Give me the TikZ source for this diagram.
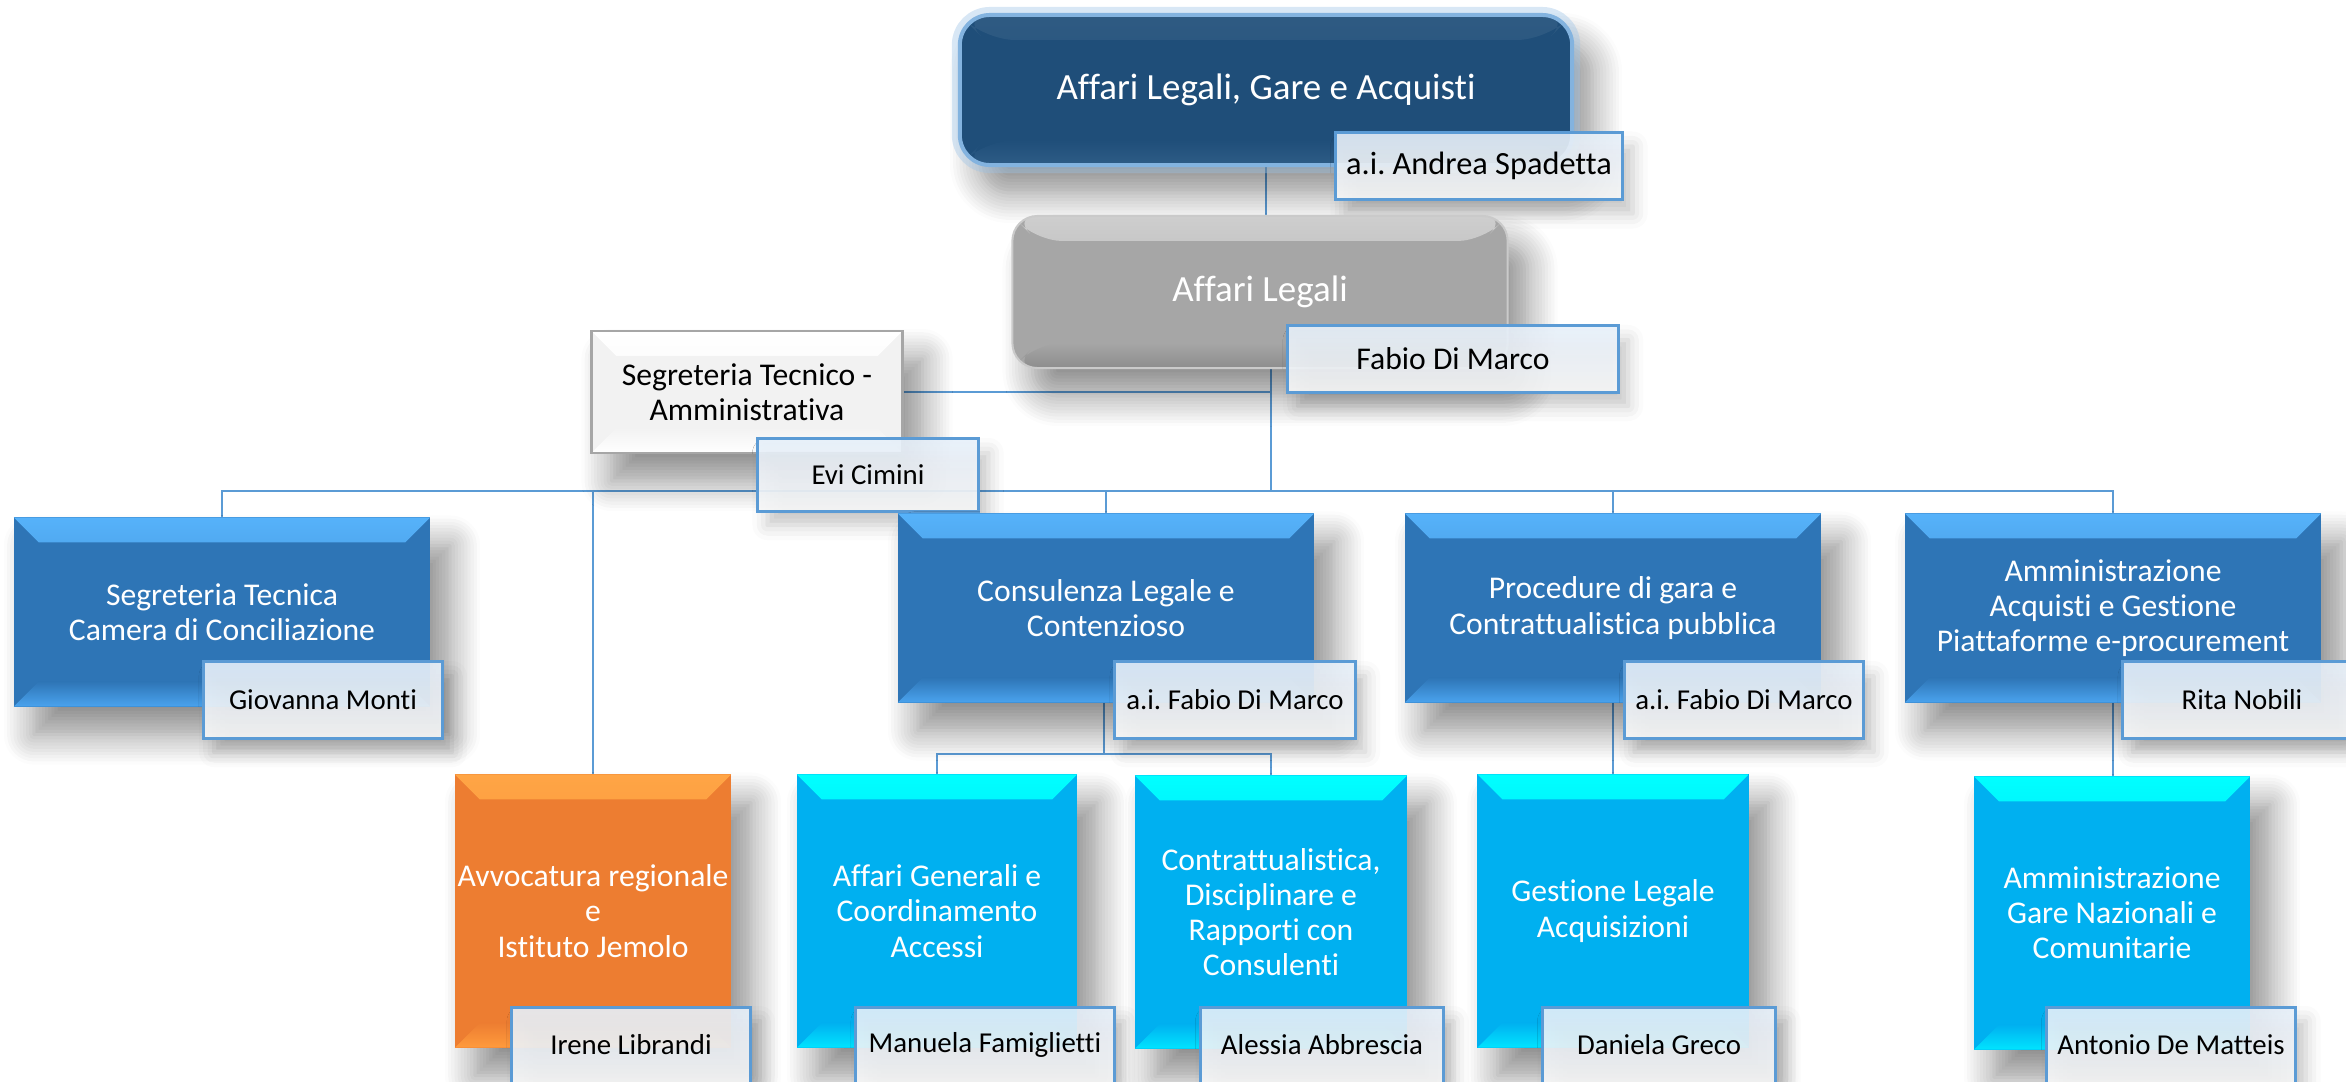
\documentclass[tikz,border=0pt]{standalone}
\usepackage{fontspec}
\setmainfont{Carlito}[Ligatures=NoCommon]
\usetikzlibrary{shadows.blur,backgrounds}
\definecolor{headblue}{HTML}{1F4E79}
\definecolor{glowblue}{HTML}{9DC3E6}
\definecolor{unitblue}{HTML}{2E75B6}
\definecolor{unittop}{HTML}{56B2FA}
\definecolor{unitbot}{HTML}{4AA3EE}
\definecolor{subcyan}{HTML}{00B0F0}
\definecolor{subtop}{HTML}{00FFFF}
\definecolor{subbot}{HTML}{00E4FF}
\definecolor{avvorange}{HTML}{ED7D31}
\definecolor{avvtop}{HTML}{FFA545}
\definecolor{avvbot}{HTML}{FF9B3D}
\definecolor{legalgray}{HTML}{A6A6A6}
\definecolor{linkblue}{HTML}{5B9BD5}
\definecolor{nametop}{HTML}{E6F0FA}
\definecolor{namebot}{HTML}{F8F8F8}
\frenchspacing
\begin{document}
\begin{tikzpicture}[x=0.01cm,y=-0.01cm,
  bevel/.style n args={3}{fill=#1, path picture={
    \shade[top color=#2, bottom color=#1] (path picture bounding box.north west) -- (path picture bounding box.north east)
      -- ([xshift=-0.25cm,yshift=-0.25cm]path picture bounding box.north east) -- ([xshift=0.25cm,yshift=-0.25cm]path picture bounding box.north west) -- cycle;
    \shade[top color=#1, bottom color=#3] (path picture bounding box.south west) -- (path picture bounding box.south east)
      -- ([xshift=-0.25cm,yshift=0.25cm]path picture bounding box.south east) -- ([xshift=0.25cm,yshift=0.25cm]path picture bounding box.south west) -- cycle;
  }},
  box/.style={inner sep=0pt, outer sep=0pt, align=center, text=white, font=\fontsize{9}{10}\selectfont,
    blur shadow={shadow xshift=0.2cm, shadow yshift=-0.28cm, shadow blur radius=0.3cm, shadow opacity=45, shadow blur steps=10}},
  headbox/.style={box, minimum width=6.12cm, minimum height=1.5cm, rounded corners=0.3cm,
    bevel={headblue}{headblue!93!white}{headblue!88!glowblue}, draw=glowblue!60!linkblue, line width=0.04cm,
    preaction={draw=glowblue, line width=0.16cm, opacity=0.4}, font=\fontsize{10.5}{12.6}\selectfont},
  legalbox/.style={box, minimum width=4.95cm, minimum height=1.52cm, rounded corners=0.25cm,
    bevel={legalgray}{legalgray!55!white}{legalgray!85!black}, draw=legalgray!60!white, line width=0.02cm,
    font=\fontsize{10.5}{12.6}\selectfont},
  staffbox/.style={box, minimum width=3.11cm, minimum height=1.22cm, text=black,
    bevel={black!5}{white}{white}, draw=black!35, line width=0.025cm},
  unitbox/.style={box, minimum width=4.16cm, minimum height=1.89cm, bevel={unitblue}{unittop}{unitbot}},
  subbox/.style={box, minimum width=2.76cm, minimum height=2.73cm, bevel={subcyan}{subtop}{subbot}},
  namebox/.style={draw=linkblue, line width=0.03cm, top color=nametop, bottom color=namebot,
    fill opacity=0.9, text opacity=1, text=black, inner sep=0pt, outer sep=0pt, minimum height=0.76cm,
    font=\fontsize{8.2}{10}\selectfont,
    blur shadow={shadow xshift=0.1cm, shadow yshift=-0.14cm, shadow blur radius=0.15cm, shadow opacity=25}},
  link/.style={draw=linkblue, line width=0.02cm}
]
\useasboundingbox (0,0) rectangle (2346,1081);
\clip (0,0) rectangle (2346,1081);

% top of the chart
\node[headbox] (head) at (1266,90) {Affari Legali, Gare e Acquisti};
\node[namebox, minimum width=2.87cm, minimum height=0.67cm, font=\fontsize{9.2}{11}\selectfont] (headname) at (1479,166) {a.i. Andrea Spadetta};
\node[legalbox] (legali) at (1260,292) {Affari Legali};
\node[namebox, minimum width=3.3cm, minimum height=0.66cm, font=\fontsize{9}{11}\selectfont] (legaliname) at (1453,359) {Fabio Di Marco};
\node[staffbox] (segamm) at (747,392) {Segreteria Tecnico -\\Amministrativa};
\node[namebox, minimum width=2.21cm, minimum height=0.72cm] (segammname) at (868,475) {Evi Cimini};

% first level
\node[unitbox] (segtec) at (222,612) {Segreteria Tecnica\\Camera di Conciliazione};
\node[namebox, minimum width=2.38cm] (segtecname) at (323,700) {Giovanna Monti};
\node[unitbox] (consul) at (1106,608) {Consulenza Legale e\\Contenzioso};
\node[namebox, minimum width=2.4cm] (consulname) at (1235,700) {a.i. Fabio Di Marco};
\node[unitbox] (proc) at (1613,608) {Procedure di gara e\\Contrattualistica pubblica};
\node[namebox, minimum width=2.39cm] (procname) at (1744,700) {a.i. Fabio Di Marco};
\node[unitbox] (ammin) at (2113,608) {Amministrazione\\Acquisti e Gestione\\Piattaforme e-procurement};
\node[namebox, minimum width=2.38cm] (amminname) at (2242,700) {Rita Nobili};

% second level
\node[subbox, bevel={avvorange}{avvtop}{avvbot}] (avv) at (593,911) {Avvocatura regionale\\e\\Istituto Jemolo};
\node[namebox, minimum width=2.38cm] (avvname) at (631,1045) {Irene Librandi};
\node[subbox, minimum width=2.8cm] (affgen) at (937,911) {Affari Generali e\\Coordinamento\\Accessi};
\node[namebox, minimum width=2.58cm] (affgenname) at (985,1045) {Manuela Famiglietti};
\node[subbox, minimum width=2.72cm] (contr) at (1271,912) {Contrattualistica,\\Disciplinare e\\Rapporti con\\Consulenti};
\node[namebox, minimum width=2.43cm] (contrname) at (1322,1045) {Alessia Abbrescia};
\node[subbox, minimum width=2.71cm] (gest) at (1613,911) {Gestione Legale\\Acquisizioni};
\node[namebox, minimum width=2.33cm] (gestname) at (1659,1045) {Daniela Greco};
\node[subbox] (gare) at (2112,913) {Amministrazione\\Gare Nazionali e\\Comunitarie};
\node[namebox, minimum width=2.49cm] (garename) at (2171,1045) {Antonio De Matteis};

\coordinate (hub) at (1271,491);
\coordinate (subhub) at (1104,754);

\begin{scope}[on background layer]
\draw[link] (head.south) -- (head.south |- legali.north);
\draw[link] (legali.south -| hub) -- (hub);
\draw[link] (segamm.east) -- (segamm.east -| hub);
\draw[link] (segtec.north) |- (ammin.north |- hub) -- (ammin.north);
\draw[link] (avv.north |- hub) -- (avv.north);
\draw[link] (consul.north |- hub) -- (consul.north);
\draw[link] (proc.north |- hub) -- (proc.north);
\draw[link] (consul.south -| subhub) -- (subhub);
\draw[link] (affgen.north) |- (subhub) -| (contr.north);
\draw[link] (proc.south) -- (gest.north);
\draw[link] (ammin.south) -- (ammin.south |- gare.north);
\end{scope}
\end{tikzpicture}
\end{document}
